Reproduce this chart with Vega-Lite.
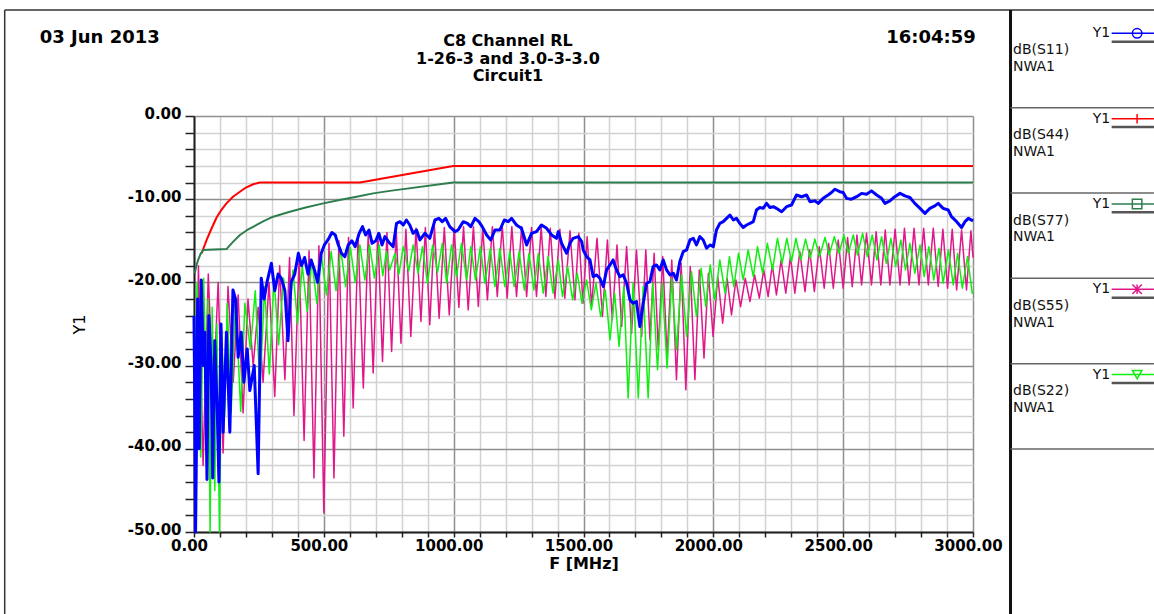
{
  "$schema": "https://vega.github.io/schema/vega-lite/v6.json",
  "width": 779,
  "height": 416,
  "autosize": {"type": "none"},
  "padding": {"left": 194, "top": 116, "right": 181, "bottom": 82},
  "background": "#ffffff",
  "config": {"view": {"stroke": null}, "font": "DejaVu Sans"},
  "datasets": {
    "traces": [
      {"s":"S44","f":30,"v":-16.5},{"s":"S44","f":40,"v":-15.6},{"s":"S44","f":50,"v":-14.8},{"s":"S44","f":65,"v":-13.7},{"s":"S44","f":87,"v":-12.2},{"s":"S44","f":105,"v":-11.3},{"s":"S44","f":125,"v":-10.5},{"s":"S44","f":150,"v":-9.7},{"s":"S44","f":177,"v":-9.1},{"s":"S44","f":200,"v":-8.6},{"s":"S44","f":228,"v":-8.2},{"s":"S44","f":254,"v":-8},{"s":"S44","f":639,"v":-8},{"s":"S44","f":998,"v":-6},{"s":"S44","f":3000,"v":-6},
      {"s":"S77","f":3,"v":-18.9},{"s":"S77","f":9,"v":-18},{"s":"S77","f":16,"v":-17.3},{"s":"S77","f":25,"v":-16.6},{"s":"S77","f":35,"v":-16.1},{"s":"S77","f":125,"v":-16},{"s":"S77","f":151,"v":-15.1},{"s":"S77","f":177,"v":-14.3},{"s":"S77","f":205,"v":-13.7},{"s":"S77","f":241,"v":-13.1},{"s":"S77","f":270,"v":-12.6},{"s":"S77","f":305,"v":-12.1},{"s":"S77","f":369,"v":-11.5},{"s":"S77","f":430,"v":-11},{"s":"S77","f":498,"v":-10.5},{"s":"S77","f":560,"v":-10.1},{"s":"S77","f":626,"v":-9.7},{"s":"S77","f":690,"v":-9.3},{"s":"S77","f":754,"v":-9},{"s":"S77","f":998,"v":-8},{"s":"S77","f":3000,"v":-8},
      {"s":"S55","f":2,"v":-27},{"s":"S55","f":6,"v":-50},{"s":"S55","f":17,"v":-18},{"s":"S55","f":35,"v":-42},{"s":"S55","f":55,"v":-19},{"s":"S55","f":74,"v":-34},{"s":"S55","f":93,"v":-20},{"s":"S55","f":112,"v":-40.5},{"s":"S55","f":131,"v":-20.5},{"s":"S55","f":151,"v":-32},{"s":"S55","f":170,"v":-21.5},{"s":"S55","f":189,"v":-35.7},{"s":"S55","f":208,"v":-22},{"s":"S55","f":228,"v":-30},{"s":"S55","f":247,"v":-23},{"s":"S55","f":266,"v":-32},{"s":"S55","f":289,"v":-20},{"s":"S55","f":311,"v":-33.7},{"s":"S55","f":330,"v":-18},{"s":"S55","f":350,"v":-31.7},{"s":"S55","f":368,"v":-17},{"s":"S55","f":385,"v":-36},{"s":"S55","f":405,"v":-16.8},{"s":"S55","f":424,"v":-39},{"s":"S55","f":443,"v":-16.2},{"s":"S55","f":462,"v":-43.5},{"s":"S55","f":481,"v":-15.6},{"s":"S55","f":500,"v":-47.7},{"s":"S55","f":520,"v":-15.3},{"s":"S55","f":539,"v":-43.5},{"s":"S55","f":558,"v":-15},{"s":"S55","f":577,"v":-38.5},{"s":"S55","f":595,"v":-14.6},{"s":"S55","f":613,"v":-35.1},{"s":"S55","f":632,"v":-14.4},{"s":"S55","f":652,"v":-32.7},{"s":"S55","f":671,"v":-14.2},{"s":"S55","f":690,"v":-30.9},{"s":"S55","f":708,"v":-14.1},{"s":"S55","f":726,"v":-29.5},{"s":"S55","f":743,"v":-14},{"s":"S55","f":761,"v":-28.3},{"s":"S55","f":779,"v":-13.8},{"s":"S55","f":797,"v":-27.3},{"s":"S55","f":816,"v":-13.6},{"s":"S55","f":835,"v":-26.5},{"s":"S55","f":855,"v":-13.5},{"s":"S55","f":874,"v":-24.7},{"s":"S55","f":891,"v":-13.4},{"s":"S55","f":908,"v":-25.1},{"s":"S55","f":926,"v":-13.3},{"s":"S55","f":944,"v":-24.3},{"s":"S55","f":964,"v":-13.4},{"s":"S55","f":983,"v":-23.9},{"s":"S55","f":1002,"v":-13.5},{"s":"S55","f":1020,"v":-23},{"s":"S55","f":1038,"v":-13.3},{"s":"S55","f":1056,"v":-23.3},{"s":"S55","f":1076,"v":-13.3},{"s":"S55","f":1095,"v":-22.9},{"s":"S55","f":1112,"v":-13.4},{"s":"S55","f":1130,"v":-22.1},{"s":"S55","f":1149,"v":-13.3},{"s":"S55","f":1168,"v":-21.7},{"s":"S55","f":1187,"v":-13.2},{"s":"S55","f":1206,"v":-21.9},{"s":"S55","f":1224,"v":-13.3},{"s":"S55","f":1242,"v":-21.7},{"s":"S55","f":1262,"v":-13.3},{"s":"S55","f":1281,"v":-21.7},{"s":"S55","f":1300,"v":-13.4},{"s":"S55","f":1319,"v":-21.7},{"s":"S55","f":1337,"v":-13.4},{"s":"S55","f":1355,"v":-21.7},{"s":"S55","f":1372,"v":-13.5},{"s":"S55","f":1390,"v":-21.9},{"s":"S55","f":1409,"v":-13.6},{"s":"S55","f":1428,"v":-21.9},{"s":"S55","f":1448,"v":-13.8},{"s":"S55","f":1467,"v":-22.1},{"s":"S55","f":1482,"v":-14.1},{"s":"S55","f":1498,"v":-22.5},{"s":"S55","f":1514,"v":-14.5},{"s":"S55","f":1531,"v":-22.9},{"s":"S55","f":1552,"v":-14.7},{"s":"S55","f":1573,"v":-24.1},{"s":"S55","f":1592,"v":-14.9},{"s":"S55","f":1611,"v":-24.5},{"s":"S55","f":1629,"v":-15.5},{"s":"S55","f":1647,"v":-25.3},{"s":"S55","f":1666,"v":-15.7},{"s":"S55","f":1685,"v":-26.1},{"s":"S55","f":1704,"v":-16.1},{"s":"S55","f":1724,"v":-26.5},{"s":"S55","f":1740,"v":-16.1},{"s":"S55","f":1756,"v":-26.9},{"s":"S55","f":1772,"v":-16.5},{"s":"S55","f":1788,"v":-28.1},{"s":"S55","f":1805,"v":-16.9},{"s":"S55","f":1822,"v":-28.9},{"s":"S55","f":1840,"v":-17.3},{"s":"S55","f":1858,"v":-31.7},{"s":"S55","f":1876,"v":-17.7},{"s":"S55","f":1894,"v":-32.9},{"s":"S55","f":1911,"v":-18.1},{"s":"S55","f":1929,"v":-31.7},{"s":"S55","f":1946,"v":-18.5},{"s":"S55","f":1964,"v":-29.1},{"s":"S55","f":1981,"v":-18.9},{"s":"S55","f":1999,"v":-26.5},{"s":"S55","f":2017,"v":-19.3},{"s":"S55","f":2036,"v":-24.9},{"s":"S55","f":2053,"v":-19.5},{"s":"S55","f":2070,"v":-23.9},{"s":"S55","f":2087,"v":-19.7},{"s":"S55","f":2105,"v":-22.9},{"s":"S55","f":2123,"v":-19.5},{"s":"S55","f":2141,"v":-22.3},{"s":"S55","f":2159,"v":-19.1},{"s":"S55","f":2177,"v":-21.9},{"s":"S55","f":2194,"v":-18.5},{"s":"S55","f":2211,"v":-21.7},{"s":"S55","f":2227,"v":-17.9},{"s":"S55","f":2243,"v":-21.5},{"s":"S55","f":2261,"v":-17.3},{"s":"S55","f":2279,"v":-21.3},{"s":"S55","f":2297,"v":-16.9},{"s":"S55","f":2314,"v":-21.3},{"s":"S55","f":2333,"v":-16.3},{"s":"S55","f":2353,"v":-21.1},{"s":"S55","f":2371,"v":-16.1},{"s":"S55","f":2389,"v":-21.1},{"s":"S55","f":2408,"v":-15.7},{"s":"S55","f":2427,"v":-20.7},{"s":"S55","f":2444,"v":-15.3},{"s":"S55","f":2462,"v":-20.7},{"s":"S55","f":2481,"v":-14.9},{"s":"S55","f":2500,"v":-20.7},{"s":"S55","f":2517,"v":-14.6},{"s":"S55","f":2535,"v":-20.5},{"s":"S55","f":2553,"v":-14.3},{"s":"S55","f":2571,"v":-20.3},{"s":"S55","f":2590,"v":-14.1},{"s":"S55","f":2609,"v":-20.3},{"s":"S55","f":2627,"v":-13.9},{"s":"S55","f":2645,"v":-20.3},{"s":"S55","f":2662,"v":-13.7},{"s":"S55","f":2680,"v":-20.3},{"s":"S55","f":2700,"v":-13.6},{"s":"S55","f":2719,"v":-20.3},{"s":"S55","f":2736,"v":-13.5},{"s":"S55","f":2754,"v":-20.3},{"s":"S55","f":2773,"v":-13.5},{"s":"S55","f":2792,"v":-20.3},{"s":"S55","f":2810,"v":-13.5},{"s":"S55","f":2828,"v":-20.3},{"s":"S55","f":2847,"v":-13.5},{"s":"S55","f":2866,"v":-20.5},{"s":"S55","f":2884,"v":-13.6},{"s":"S55","f":2902,"v":-20.7},{"s":"S55","f":2920,"v":-13.6},{"s":"S55","f":2937,"v":-20.9},{"s":"S55","f":2956,"v":-13.7},{"s":"S55","f":2975,"v":-20.9},{"s":"S55","f":2992,"v":-13.8},{"s":"S55","f":3000,"v":-17},
      {"s":"S22","f":0,"v":-24},{"s":"S22","f":4,"v":-32},{"s":"S22","f":12,"v":-20},{"s":"S22","f":26,"v":-41},{"s":"S22","f":37,"v":-19.5},{"s":"S22","f":47,"v":-33},{"s":"S22","f":54,"v":-22},{"s":"S22","f":62,"v":-50},{"s":"S22","f":70,"v":-23},{"s":"S22","f":80,"v":-45},{"s":"S22","f":88,"v":-25},{"s":"S22","f":98,"v":-50},{"s":"S22","f":106,"v":-26},{"s":"S22","f":118,"v":-36},{"s":"S22","f":128,"v":-22.5},{"s":"S22","f":143,"v":-35.7},{"s":"S22","f":160,"v":-22},{"s":"S22","f":180,"v":-35.5},{"s":"S22","f":196,"v":-22.5},{"s":"S22","f":217,"v":-28},{"s":"S22","f":236,"v":-21},{"s":"S22","f":254,"v":-32.7},{"s":"S22","f":272,"v":-20.5},{"s":"S22","f":290,"v":-31},{"s":"S22","f":308,"v":-19.5},{"s":"S22","f":326,"v":-27.5},{"s":"S22","f":345,"v":-19.5},{"s":"S22","f":363,"v":-26},{"s":"S22","f":381,"v":-18.5},{"s":"S22","f":399,"v":-24.9},{"s":"S22","f":417,"v":-18},{"s":"S22","f":436,"v":-23.5},{"s":"S22","f":454,"v":-17.3},{"s":"S22","f":473,"v":-22.5},{"s":"S22","f":491,"v":-16.8},{"s":"S22","f":510,"v":-21.5},{"s":"S22","f":528,"v":-16.3},{"s":"S22","f":547,"v":-21},{"s":"S22","f":565,"v":-16},{"s":"S22","f":584,"v":-20.5},{"s":"S22","f":602,"v":-15.8},{"s":"S22","f":621,"v":-20},{"s":"S22","f":639,"v":-15.5},{"s":"S22","f":658,"v":-19.7},{"s":"S22","f":676,"v":-15.5},{"s":"S22","f":695,"v":-19.5},{"s":"S22","f":713,"v":-15.5},{"s":"S22","f":727,"v":-19.2},{"s":"S22","f":741,"v":-16.3},{"s":"S22","f":754,"v":-18.5},{"s":"S22","f":774,"v":-16.5},{"s":"S22","f":789,"v":-19},{"s":"S22","f":806,"v":-15.7},{"s":"S22","f":827,"v":-18.6},{"s":"S22","f":844,"v":-15.5},{"s":"S22","f":863,"v":-18.9},{"s":"S22","f":880,"v":-15.7},{"s":"S22","f":899,"v":-20.1},{"s":"S22","f":919,"v":-15.5},{"s":"S22","f":938,"v":-18.8},{"s":"S22","f":956,"v":-15.3},{"s":"S22","f":973,"v":-20.1},{"s":"S22","f":992,"v":-15.5},{"s":"S22","f":1011,"v":-19.3},{"s":"S22","f":1030,"v":-15.3},{"s":"S22","f":1050,"v":-19.7},{"s":"S22","f":1066,"v":-15.7},{"s":"S22","f":1084,"v":-19.7},{"s":"S22","f":1103,"v":-15.7},{"s":"S22","f":1120,"v":-20.1},{"s":"S22","f":1141,"v":-15.9},{"s":"S22","f":1159,"v":-20.5},{"s":"S22","f":1178,"v":-15.9},{"s":"S22","f":1197,"v":-20.5},{"s":"S22","f":1216,"v":-16.3},{"s":"S22","f":1233,"v":-20.5},{"s":"S22","f":1252,"v":-16.3},{"s":"S22","f":1272,"v":-20.9},{"s":"S22","f":1290,"v":-16.5},{"s":"S22","f":1309,"v":-20.9},{"s":"S22","f":1326,"v":-16.5},{"s":"S22","f":1345,"v":-21.3},{"s":"S22","f":1364,"v":-16.9},{"s":"S22","f":1383,"v":-21.3},{"s":"S22","f":1403,"v":-17.3},{"s":"S22","f":1419,"v":-21.7},{"s":"S22","f":1439,"v":-18.1},{"s":"S22","f":1458,"v":-22.1},{"s":"S22","f":1476,"v":-18.9},{"s":"S22","f":1494,"v":-22.5},{"s":"S22","f":1512,"v":-19.7},{"s":"S22","f":1530,"v":-23.3},{"s":"S22","f":1548,"v":-20.1},{"s":"S22","f":1566,"v":-24.1},{"s":"S22","f":1584,"v":-20.9},{"s":"S22","f":1602,"v":-26.9},{"s":"S22","f":1620,"v":-21.3},{"s":"S22","f":1637,"v":-27.7},{"s":"S22","f":1655,"v":-20.5},{"s":"S22","f":1672,"v":-33.9},{"s":"S22","f":1691,"v":-20.1},{"s":"S22","f":1711,"v":-33.9},{"s":"S22","f":1730,"v":-20.5},{"s":"S22","f":1749,"v":-33.9},{"s":"S22","f":1767,"v":-20.1},{"s":"S22","f":1785,"v":-30.5},{"s":"S22","f":1803,"v":-20.1},{"s":"S22","f":1822,"v":-30.3},{"s":"S22","f":1840,"v":-19.5},{"s":"S22","f":1858,"v":-28.1},{"s":"S22","f":1878,"v":-19.1},{"s":"S22","f":1897,"v":-26.5},{"s":"S22","f":1916,"v":-18.7},{"s":"S22","f":1935,"v":-24.1},{"s":"S22","f":1953,"v":-18.3},{"s":"S22","f":1971,"v":-22.9},{"s":"S22","f":1988,"v":-17.9},{"s":"S22","f":2006,"v":-22.1},{"s":"S22","f":2025,"v":-17.3},{"s":"S22","f":2045,"v":-21.3},{"s":"S22","f":2062,"v":-16.9},{"s":"S22","f":2079,"v":-20.5},{"s":"S22","f":2097,"v":-16.5},{"s":"S22","f":2115,"v":-19.7},{"s":"S22","f":2134,"v":-16.1},{"s":"S22","f":2154,"v":-19.3},{"s":"S22","f":2170,"v":-15.7},{"s":"S22","f":2190,"v":-18.9},{"s":"S22","f":2208,"v":-15.3},{"s":"S22","f":2228,"v":-18.5},{"s":"S22","f":2247,"v":-14.7},{"s":"S22","f":2265,"v":-17.7},{"s":"S22","f":2283,"v":-14.7},{"s":"S22","f":2301,"v":-17.5},{"s":"S22","f":2318,"v":-14.7},{"s":"S22","f":2337,"v":-17.3},{"s":"S22","f":2355,"v":-14.8},{"s":"S22","f":2373,"v":-17.1},{"s":"S22","f":2391,"v":-14.8},{"s":"S22","f":2409,"v":-16.9},{"s":"S22","f":2430,"v":-14.6},{"s":"S22","f":2446,"v":-16.7},{"s":"S22","f":2466,"v":-14.5},{"s":"S22","f":2484,"v":-16.5},{"s":"S22","f":2503,"v":-14.3},{"s":"S22","f":2520,"v":-16.5},{"s":"S22","f":2539,"v":-14.3},{"s":"S22","f":2555,"v":-16.7},{"s":"S22","f":2575,"v":-14.1},{"s":"S22","f":2593,"v":-16.9},{"s":"S22","f":2612,"v":-14.3},{"s":"S22","f":2630,"v":-17.3},{"s":"S22","f":2648,"v":-14.5},{"s":"S22","f":2666,"v":-17.7},{"s":"S22","f":2684,"v":-14.7},{"s":"S22","f":2702,"v":-18.1},{"s":"S22","f":2722,"v":-14.9},{"s":"S22","f":2740,"v":-18.5},{"s":"S22","f":2757,"v":-15.3},{"s":"S22","f":2776,"v":-18.9},{"s":"S22","f":2796,"v":-15.5},{"s":"S22","f":2812,"v":-19.3},{"s":"S22","f":2830,"v":-15.7},{"s":"S22","f":2849,"v":-19.7},{"s":"S22","f":2869,"v":-15.9},{"s":"S22","f":2885,"v":-20.1},{"s":"S22","f":2905,"v":-16.1},{"s":"S22","f":2924,"v":-20.3},{"s":"S22","f":2941,"v":-16.5},{"s":"S22","f":2959,"v":-20.7},{"s":"S22","f":2979,"v":-16.9},{"s":"S22","f":2997,"v":-21.3},{"s":"S22","f":3000,"v":-21.3},
      {"s":"S11","f":0,"v":-24},{"s":"S11","f":3,"v":-35},{"s":"S11","f":6,"v":-50},{"s":"S11","f":10,"v":-38},{"s":"S11","f":14,"v":-22},{"s":"S11","f":20,"v":-40},{"s":"S11","f":28,"v":-19.7},{"s":"S11","f":36,"v":-30},{"s":"S11","f":42,"v":-26},{"s":"S11","f":50,"v":-43.7},{"s":"S11","f":57,"v":-24},{"s":"S11","f":66,"v":-30},{"s":"S11","f":72,"v":-43.5},{"s":"S11","f":80,"v":-27},{"s":"S11","f":90,"v":-36},{"s":"S11","f":96,"v":-44},{"s":"S11","f":104,"v":-25},{"s":"S11","f":112,"v":-38},{"s":"S11","f":125,"v":-26},{"s":"S11","f":138,"v":-38},{"s":"S11","f":150,"v":-20.9},{"s":"S11","f":160,"v":-22},{"s":"S11","f":170,"v":-29},{"s":"S11","f":182,"v":-26},{"s":"S11","f":192,"v":-32},{"s":"S11","f":205,"v":-28},{"s":"S11","f":215,"v":-33},{"s":"S11","f":232,"v":-30},{"s":"S11","f":247,"v":-43},{"s":"S11","f":259,"v":-19.5},{"s":"S11","f":270,"v":-22},{"s":"S11","f":281,"v":-20},{"s":"S11","f":298,"v":-17.7},{"s":"S11","f":311,"v":-21},{"s":"S11","f":324,"v":-19},{"s":"S11","f":336,"v":-19.5},{"s":"S11","f":350,"v":-21},{"s":"S11","f":362,"v":-27},{"s":"S11","f":374,"v":-20},{"s":"S11","f":388,"v":-19},{"s":"S11","f":402,"v":-16.5},{"s":"S11","f":414,"v":-18},{"s":"S11","f":426,"v":-17},{"s":"S11","f":439,"v":-19},{"s":"S11","f":451,"v":-17.3},{"s":"S11","f":464,"v":-18.5},{"s":"S11","f":476,"v":-20},{"s":"S11","f":490,"v":-16.5},{"s":"S11","f":502,"v":-15.5},{"s":"S11","f":516,"v":-14.9},{"s":"S11","f":531,"v":-14},{"s":"S11","f":544,"v":-14.3},{"s":"S11","f":556,"v":-15.5},{"s":"S11","f":568,"v":-16.5},{"s":"S11","f":581,"v":-16.9},{"s":"S11","f":594,"v":-15.5},{"s":"S11","f":608,"v":-15},{"s":"S11","f":621,"v":-15.7},{"s":"S11","f":636,"v":-14.1},{"s":"S11","f":649,"v":-13.3},{"s":"S11","f":661,"v":-14.3},{"s":"S11","f":674,"v":-13.7},{"s":"S11","f":686,"v":-15.3},{"s":"S11","f":700,"v":-15},{"s":"S11","f":712,"v":-14.1},{"s":"S11","f":724,"v":-15.5},{"s":"S11","f":735,"v":-14.5},{"s":"S11","f":754,"v":-15.3},{"s":"S11","f":767,"v":-15.7},{"s":"S11","f":780,"v":-12.9},{"s":"S11","f":793,"v":-12.7},{"s":"S11","f":806,"v":-13.1},{"s":"S11","f":818,"v":-12.5},{"s":"S11","f":831,"v":-13.1},{"s":"S11","f":844,"v":-14.1},{"s":"S11","f":857,"v":-13.7},{"s":"S11","f":870,"v":-14.9},{"s":"S11","f":889,"v":-14.1},{"s":"S11","f":908,"v":-14.7},{"s":"S11","f":928,"v":-12.5},{"s":"S11","f":943,"v":-12.3},{"s":"S11","f":956,"v":-12.7},{"s":"S11","f":969,"v":-12.3},{"s":"S11","f":985,"v":-13.3},{"s":"S11","f":1005,"v":-13.9},{"s":"S11","f":1017,"v":-13.7},{"s":"S11","f":1037,"v":-12.7},{"s":"S11","f":1053,"v":-12.9},{"s":"S11","f":1066,"v":-13.3},{"s":"S11","f":1082,"v":-12.3},{"s":"S11","f":1097,"v":-12.7},{"s":"S11","f":1110,"v":-13.3},{"s":"S11","f":1127,"v":-14.3},{"s":"S11","f":1143,"v":-14.9},{"s":"S11","f":1159,"v":-13.7},{"s":"S11","f":1178,"v":-13.7},{"s":"S11","f":1195,"v":-12.5},{"s":"S11","f":1210,"v":-12.7},{"s":"S11","f":1223,"v":-12.3},{"s":"S11","f":1242,"v":-13.1},{"s":"S11","f":1261,"v":-13.5},{"s":"S11","f":1281,"v":-15.5},{"s":"S11","f":1300,"v":-14.1},{"s":"S11","f":1319,"v":-13.9},{"s":"S11","f":1338,"v":-13.1},{"s":"S11","f":1358,"v":-13.5},{"s":"S11","f":1377,"v":-14.3},{"s":"S11","f":1396,"v":-14.7},{"s":"S11","f":1403,"v":-13.9},{"s":"S11","f":1416,"v":-15.3},{"s":"S11","f":1435,"v":-16.5},{"s":"S11","f":1448,"v":-15.3},{"s":"S11","f":1460,"v":-14.7},{"s":"S11","f":1480,"v":-14.5},{"s":"S11","f":1493,"v":-15.1},{"s":"S11","f":1499,"v":-16.1},{"s":"S11","f":1512,"v":-16.9},{"s":"S11","f":1525,"v":-17.3},{"s":"S11","f":1537,"v":-19.3},{"s":"S11","f":1550,"v":-19.1},{"s":"S11","f":1563,"v":-19.5},{"s":"S11","f":1576,"v":-20.5},{"s":"S11","f":1589,"v":-18.5},{"s":"S11","f":1602,"v":-17.9},{"s":"S11","f":1614,"v":-17.3},{"s":"S11","f":1627,"v":-18.5},{"s":"S11","f":1640,"v":-19.3},{"s":"S11","f":1653,"v":-19.1},{"s":"S11","f":1666,"v":-20.1},{"s":"S11","f":1679,"v":-22.1},{"s":"S11","f":1691,"v":-22.5},{"s":"S11","f":1704,"v":-22.3},{"s":"S11","f":1717,"v":-25.3},{"s":"S11","f":1730,"v":-22.5},{"s":"S11","f":1743,"v":-20.1},{"s":"S11","f":1756,"v":-19.9},{"s":"S11","f":1768,"v":-18.1},{"s":"S11","f":1781,"v":-17.9},{"s":"S11","f":1794,"v":-18.5},{"s":"S11","f":1807,"v":-17.3},{"s":"S11","f":1820,"v":-18.5},{"s":"S11","f":1833,"v":-19.1},{"s":"S11","f":1846,"v":-18.9},{"s":"S11","f":1858,"v":-19.7},{"s":"S11","f":1871,"v":-17.5},{"s":"S11","f":1884,"v":-16.3},{"s":"S11","f":1897,"v":-16.1},{"s":"S11","f":1910,"v":-14.9},{"s":"S11","f":1923,"v":-14.7},{"s":"S11","f":1935,"v":-15.5},{"s":"S11","f":1948,"v":-14.5},{"s":"S11","f":1961,"v":-14.9},{"s":"S11","f":1974,"v":-15.9},{"s":"S11","f":1987,"v":-15.5},{"s":"S11","f":2000,"v":-15.7},{"s":"S11","f":2012,"v":-13.7},{"s":"S11","f":2025,"v":-12.9},{"s":"S11","f":2038,"v":-12.7},{"s":"S11","f":2051,"v":-12.3},{"s":"S11","f":2064,"v":-11.9},{"s":"S11","f":2077,"v":-12.5},{"s":"S11","f":2089,"v":-12.3},{"s":"S11","f":2102,"v":-12.9},{"s":"S11","f":2115,"v":-13.4},{"s":"S11","f":2128,"v":-13.1},{"s":"S11","f":2141,"v":-12.9},{"s":"S11","f":2154,"v":-12.7},{"s":"S11","f":2166,"v":-11.3},{"s":"S11","f":2179,"v":-11},{"s":"S11","f":2192,"v":-11.1},{"s":"S11","f":2205,"v":-10.5},{"s":"S11","f":2218,"v":-11},{"s":"S11","f":2231,"v":-10.9},{"s":"S11","f":2243,"v":-11.1},{"s":"S11","f":2263,"v":-11.5},{"s":"S11","f":2282,"v":-10.9},{"s":"S11","f":2301,"v":-10.7},{"s":"S11","f":2320,"v":-9.5},{"s":"S11","f":2340,"v":-9.7},{"s":"S11","f":2359,"v":-9.5},{"s":"S11","f":2372,"v":-10.3},{"s":"S11","f":2391,"v":-10.2},{"s":"S11","f":2404,"v":-10.5},{"s":"S11","f":2423,"v":-9.9},{"s":"S11","f":2442,"v":-9.5},{"s":"S11","f":2455,"v":-9.2},{"s":"S11","f":2468,"v":-8.8},{"s":"S11","f":2487,"v":-9.1},{"s":"S11","f":2500,"v":-9.2},{"s":"S11","f":2513,"v":-9.9},{"s":"S11","f":2532,"v":-10},{"s":"S11","f":2552,"v":-9.7},{"s":"S11","f":2571,"v":-9.3},{"s":"S11","f":2590,"v":-9.4},{"s":"S11","f":2609,"v":-9},{"s":"S11","f":2629,"v":-9.5},{"s":"S11","f":2648,"v":-9.9},{"s":"S11","f":2661,"v":-10.5},{"s":"S11","f":2680,"v":-10.2},{"s":"S11","f":2699,"v":-9.7},{"s":"S11","f":2719,"v":-9.3},{"s":"S11","f":2738,"v":-9.6},{"s":"S11","f":2757,"v":-9.8},{"s":"S11","f":2776,"v":-10.5},{"s":"S11","f":2796,"v":-11.1},{"s":"S11","f":2815,"v":-11.7},{"s":"S11","f":2834,"v":-11.1},{"s":"S11","f":2853,"v":-10.8},{"s":"S11","f":2866,"v":-10.5},{"s":"S11","f":2885,"v":-11.1},{"s":"S11","f":2905,"v":-11.3},{"s":"S11","f":2917,"v":-12.1},{"s":"S11","f":2937,"v":-12.7},{"s":"S11","f":2956,"v":-13.4},{"s":"S11","f":2969,"v":-12.7},{"s":"S11","f":2982,"v":-12.3},{"s":"S11","f":3000,"v":-12.6}
    ],
    "legend": [
      {"s":"S11","lab":"dB(S11)"},
      {"s":"S44","lab":"dB(S44)"},
      {"s":"S77","lab":"dB(S77)"},
      {"s":"S55","lab":"dB(S55)"},
      {"s":"S22","lab":"dB(S22)"}
    ]
  },
  "layer": [
    {
      "layer": [
        {
          "data": {"name": "traces"},
          "encoding": {
            "x": {
              "field": "f", "type": "quantitative",
              "scale": {"domain": [0, 3000], "nice": false, "zero": false},
              "axis": {
                "values": [0,100,200,300,400,500,600,700,800,900,1000,1100,1200,1300,1400,1500,1600,1700,1800,1900,2000,2100,2200,2300,2400,2500,2600,2700,2800,2900,3000],
                "tickCount": 100,
                "title": "F [MHz]",
                "labelExpr": "datum.value % 500 === 0 ? datum.value + '.00' : ''",
                "labelFont": "DejaVu Sans", "labelFontSize": 15, "labelFontWeight": "bold", "labelColor": "#000000",
                "labelPadding": 1, "labelOffset": -5, "labelFlush": false, "labelOverlap": false, "labelBound": false,
                "tickColor": "#222222", "tickWidth": 1.5, "tickSize": 5,
                "grid": true,
                "gridColor": {"condition": {"test": "datum.value % 500 === 0", "value": "#8f8f8f"}, "value": "#d2d2d2"},
                "gridWidth": 1.5,
                "domainColor": "#222222", "domainWidth": 2,
                "titleFont": "DejaVu Sans", "titleFontSize": 16, "titleFontWeight": "bold", "titleColor": "#000000", "titlePadding": 2
              }
            },
            "y": {
              "field": "v", "type": "quantitative",
              "scale": {"domain": [-50, 0], "nice": false, "zero": false},
              "axis": {
                "values": [-50,-48,-46,-44,-42,-40,-38,-36,-34,-32,-30,-28,-26,-24,-22,-20,-18,-16,-14,-12,-10,-8,-6,-4,-2,0],
                "tickCount": 100,
                "title": "Y1",
                "labelExpr": "datum.value % 10 === 0 ? datum.value + '.00' : ''",
                "labelFont": "DejaVu Sans", "labelFontSize": 15, "labelFontWeight": "bold", "labelColor": "#000000",
                "labelPadding": 4, "labelOffset": -3, "labelFlush": false, "labelOverlap": false, "labelBound": false,
                "tickColor": "#222222", "tickWidth": 1.5, "tickSize": 9,
                "grid": true,
                "gridColor": {"condition": {"test": "datum.value % 10 === 0", "value": "#8f8f8f"}, "value": "#d2d2d2"},
                "gridWidth": 1.5,
                "domainColor": "#222222", "domainWidth": 2,
                "titleFont": "DejaVu Sans", "titleFontSize": 16, "titleFontWeight": "normal", "titleColor": "#000000", "titlePadding": 40
              }
            },
            "color": {
              "field": "s", "type": "nominal",
              "scale": {"domain": ["S11","S44","S77","S55","S22"], "range": ["#0000ff","#ff0000","#2e7d4f","#e0178a","#11ee11"]},
              "legend": null
            }
          },
          "layer": [
            {"transform": [{"filter": "datum.s === 'S55'"}], "mark": {"type": "line", "strokeWidth": 1.5, "strokeJoin": "round"}},
            {"transform": [{"filter": "datum.s === 'S22'"}], "mark": {"type": "line", "strokeWidth": 1.5, "strokeJoin": "round"}},
            {"transform": [{"filter": "datum.s === 'S11'"}], "mark": {"type": "line", "strokeWidth": 3, "strokeJoin": "round"}},
            {"transform": [{"filter": "datum.s === 'S44'"}], "mark": {"type": "line", "strokeWidth": 2, "strokeJoin": "round"}},
            {"transform": [{"filter": "datum.s === 'S77'"}], "mark": {"type": "line", "strokeWidth": 2, "strokeJoin": "round"}}
          ]
        },
        {
          "data": {"values": [{"t": "03 Jun 2013"}]},
          "mark": {"type": "text", "align": "left", "baseline": "middle", "font": "DejaVu Sans", "fontSize": 18, "fontWeight": "bold", "color": "#000000"},
          "encoding": {
            "x": {"datum": -594, "type": "quantitative", "scale": {"domain": [0, 3000], "nice": false, "zero": false}},
            "y": {"datum": 9.43, "type": "quantitative", "scale": {"domain": [-50, 0], "nice": false, "zero": false}},
            "text": {"field": "t"}
          }
        },
        {
          "data": {"values": [{"t": "16:04:59"}]},
          "mark": {"type": "text", "align": "right", "baseline": "middle", "font": "DejaVu Sans", "fontSize": 18, "fontWeight": "bold", "color": "#000000"},
          "encoding": {
            "x": {"datum": 3011, "type": "quantitative", "scale": {"domain": [0, 3000], "nice": false, "zero": false}},
            "y": {"datum": 9.43, "type": "quantitative", "scale": {"domain": [-50, 0], "nice": false, "zero": false}},
            "text": {"field": "t"}
          }
        },
        {
          "data": {"values": [{"t": ["C8 Channel RL", "1-26-3 and 3.0-3-3.0", "Circuit1"]}]},
          "mark": {"type": "text", "align": "center", "baseline": "middle", "lineHeight": 17.5, "font": "DejaVu Sans", "fontSize": 16, "fontWeight": "bold", "color": "#000000"},
          "encoding": {
            "x": {"datum": 1209, "type": "quantitative", "scale": {"domain": [0, 3000], "nice": false, "zero": false}},
            "y": {"datum": 9.0, "type": "quantitative", "scale": {"domain": [-50, 0], "nice": false, "zero": false}},
            "text": {"field": "t"}
          }
        },
        {
          "data": {"values": [{}]},
          "mark": {"type": "rule", "color": "#333333", "strokeWidth": 1.5},
          "encoding": {
            "x": {"datum": -729, "type": "quantitative", "scale": {"domain": [0, 3000], "nice": false, "zero": false}},
            "x2": {"datum": 3697},
            "y": {"datum": 12.74, "type": "quantitative", "scale": {"domain": [-50, 0], "nice": false, "zero": false}}
          }
        },
        {
          "data": {"values": [{}]},
          "mark": {"type": "rule", "color": "#333333", "strokeWidth": 1.5},
          "encoding": {
            "x": {"datum": -729, "type": "quantitative", "scale": {"domain": [0, 3000], "nice": false, "zero": false}},
            "y": {"datum": 12.74, "type": "quantitative", "scale": {"domain": [-50, 0], "nice": false, "zero": false}},
            "y2": {"datum": -59.9}
          }
        },
        {
          "data": {"values": [{}]},
          "mark": {"type": "rule", "color": "#111111", "strokeWidth": 3},
          "encoding": {
            "x": {"datum": 3144.5, "type": "quantitative", "scale": {"domain": [0, 3000], "nice": false, "zero": false}},
            "y": {"datum": 12.74, "type": "quantitative", "scale": {"domain": [-50, 0], "nice": false, "zero": false}},
            "y2": {"datum": -59.9}
          }
        }
      ]
    },
    {
      "data": {"name": "legend"},
      "layer": [
        {
          "mark": {"type": "text", "align": "right", "baseline": "middle", "font": "DejaVu Sans", "fontSize": 14, "color": "#111111"},
          "encoding": {
            "x": {"datum": 3528, "type": "quantitative", "scale": {"domain": [0, 3000], "nice": false, "zero": false}},
            "y": {"field": "s", "type": "nominal", "bandPosition": 0.128, "scale": {"type": "band", "domain": ["S11","S44","S77","S55","S22"], "range": [-93.6, 333], "paddingInner": 0, "paddingOuter": 0}, "axis": null},
            "text": {"value": "Y1"}
          }
        },
        {
          "mark": {"type": "rule", "strokeWidth": 1.5},
          "encoding": {
            "x": {"datum": 3534, "type": "quantitative", "scale": {"domain": [0, 3000], "nice": false, "zero": false}},
            "x2": {"datum": 3697},
            "y": {"field": "s", "type": "nominal", "bandPosition": 0.128, "scale": {"type": "band", "domain": ["S11","S44","S77","S55","S22"], "range": [-93.6, 333], "paddingInner": 0, "paddingOuter": 0}, "axis": null},
            "color": {"field": "s", "type": "nominal", "scale": {"domain": ["S11","S44","S77","S55","S22"], "range": ["#0000ff","#ff0000","#2e7d4f","#e0178a","#11ee11"]}, "legend": null}
          }
        },
        {
          "mark": {"type": "rule", "strokeWidth": 2.5, "color": "#555555"},
          "encoding": {
            "x": {"datum": 3534, "type": "quantitative", "scale": {"domain": [0, 3000], "nice": false, "zero": false}},
            "x2": {"datum": 3697},
            "y": {"field": "s", "type": "nominal", "bandPosition": 0.226, "scale": {"type": "band", "domain": ["S11","S44","S77","S55","S22"], "range": [-93.6, 333], "paddingInner": 0, "paddingOuter": 0}, "axis": null}
          }
        },
        {
          "mark": {"type": "point", "filled": false, "size": 90, "strokeWidth": 1.5, "opacity": 1},
          "encoding": {
            "x": {"datum": 3632, "type": "quantitative", "scale": {"domain": [0, 3000], "nice": false, "zero": false}},
            "y": {"field": "s", "type": "nominal", "bandPosition": 0.128, "scale": {"type": "band", "domain": ["S11","S44","S77","S55","S22"], "range": [-93.6, 333], "paddingInner": 0, "paddingOuter": 0}, "axis": null},
            "color": {"field": "s", "type": "nominal", "scale": {"domain": ["S11","S44","S77","S55","S22"], "range": ["#0000ff","#ff0000","#2e7d4f","#e0178a","#11ee11"]}, "legend": null},
            "shape": {"field": "s", "type": "nominal", "scale": {"domain": ["S11","S44","S77","S55","S22"], "range": ["circle", "M0,-1L0,1", "square", "M-1,-1L1,1M-1,1L1,-1M0,-1L0,1", "triangle-down"]}, "legend": null}
          }
        },
        {
          "mark": {"type": "text", "align": "left", "baseline": "middle", "font": "DejaVu Sans", "fontSize": 14, "color": "#111111"},
          "encoding": {
            "x": {"datum": 3154, "type": "quantitative", "scale": {"domain": [0, 3000], "nice": false, "zero": false}},
            "y": {"field": "s", "type": "nominal", "bandPosition": 0.324, "scale": {"type": "band", "domain": ["S11","S44","S77","S55","S22"], "range": [-93.6, 333], "paddingInner": 0, "paddingOuter": 0}, "axis": null},
            "text": {"field": "lab"}
          }
        },
        {
          "mark": {"type": "text", "align": "left", "baseline": "middle", "font": "DejaVu Sans", "fontSize": 14, "color": "#111111"},
          "encoding": {
            "x": {"datum": 3154, "type": "quantitative", "scale": {"domain": [0, 3000], "nice": false, "zero": false}},
            "y": {"field": "s", "type": "nominal", "bandPosition": 0.519, "scale": {"type": "band", "domain": ["S11","S44","S77","S55","S22"], "range": [-93.6, 333], "paddingInner": 0, "paddingOuter": 0}, "axis": null},
            "text": {"value": "NWA1"}
          }
        },
        {
          "mark": {"type": "rule", "strokeWidth": 1.5, "color": "#666666"},
          "encoding": {
            "x": {"datum": 3144.5, "type": "quantitative", "scale": {"domain": [0, 3000], "nice": false, "zero": false}},
            "x2": {"datum": 3697},
            "y": {"field": "s", "type": "nominal", "bandPosition": 1, "scale": {"type": "band", "domain": ["S11","S44","S77","S55","S22"], "range": [-93.6, 333], "paddingInner": 0, "paddingOuter": 0}, "axis": null}
          }
        }
      ]
    }
  ],
  "resolve": {"scale": {"y": "independent"}}
}
